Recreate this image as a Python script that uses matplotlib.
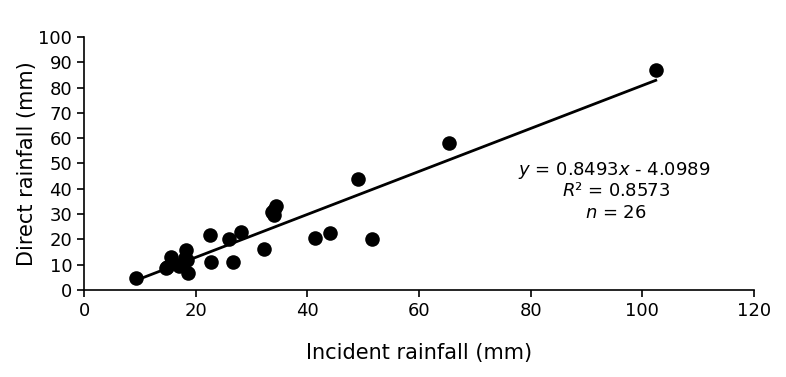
import matplotlib
matplotlib.use("Agg")
import matplotlib.pyplot as plt
import numpy as np

incident = [9.3, 14.6, 14.9, 15.5, 17.1, 17.6, 18.2, 18.4, 18.0, 18.7, 22.6, 22.7,
            26.0, 26.7, 28.2, 32.2, 33.7, 34.0, 34.0, 34.3, 41.4, 44.1, 49.0, 51.5,
            65.4, 102.4]
direct = [4.7, 8.6, 8.9, 13.2, 9.6, 10.3, 15.8, 11.9, 12.6, 6.6, 21.6, 10.9,
          20.0, 10.9, 23.0, 16.1, 30.8, 29.6, 31.8, 33.0, 20.7, 22.6, 43.7, 20.0,
          58.0, 87.0]
slope, intercept = 0.8493, -4.0989
r2 = 0.8573
n = 26

fig = plt.figure(figsize=(7.86, 3.77), dpi=100)
ax = fig.add_axes([0.1069, 0.2308, 0.8524, 0.6711])

ax.scatter(incident, direct, s=110, color="black", zorder=3, linewidths=0)
xs = np.array([min(incident), max(incident)])
ax.plot(xs, slope * xs + intercept, color="black", lw=2.0, zorder=2)

ax.set_xlim(0, 120)
ax.set_ylim(0, 100)
ax.set_xticks(range(0, 121, 20))
ax.set_yticks(range(0, 101, 10))
for s in ["top", "right"]:
    ax.spines[s].set_visible(False)
for s in ["left", "bottom"]:
    ax.spines[s].set_linewidth(1.2)
ax.tick_params(direction="out", length=5, width=1.2, labelsize=13, colors="black")
ax.set_xlabel("Incident rainfall (mm)", fontsize=15)
ax.set_ylabel("Direct rainfall (mm)", fontsize=15)
ax.xaxis.set_label_coords(0.5, -0.249)
ax.yaxis.set_label_coords(-0.085, 0.5)
ax.xaxis.label.set_va("center")
ax.yaxis.label.set_va("center")

ax.text(95.0, 47.4, r"$\it{y}$ = 0.8493$\it{x}$ - 4.0989", ha="center", va="center", fontsize=13)
ax.text(95.3, 39.1, r"$\it{R}$² = 0.8573", ha="center", va="center", fontsize=13)
ax.text(95.3, 30.6, r"$\it{n}$ = 26", ha="center", va="center", fontsize=13)

fig.savefig("out.png", dpi=100)
